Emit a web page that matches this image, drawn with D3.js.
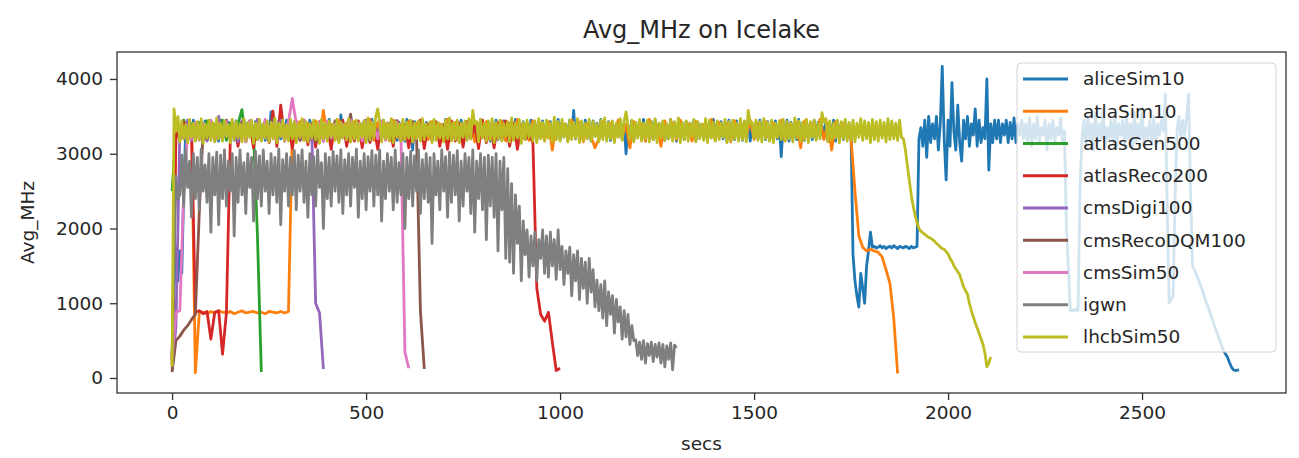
<!DOCTYPE html>
<html>
<head>
<meta charset="utf-8">
<script src="https://cdn.jsdelivr.net/npm/d3@7"></script>
<style>
  body { margin: 0; background: #fff; }
  svg { display: block; font-family: "DejaVu Sans", sans-serif; }
</style>
</head>
<body>
<div id="chart"></div>
<script>
const seriesNames = ["aliceSim10", "atlaSim10", "atlasGen500", "atlasReco200", "cmsDigi100",
    "cmsRecoDQM100", "cmsSim50", "igwn", "lhcbSim50"];

// seconds between two samples of each series (all start at 0 secs)
const sampleSecs = [5, 10, 10, 10, 10, 10, 10, 5, 5];

const aliceSim10 = [300, 1200, 1750, 1300, 1700, 1400, 2500, 3300,
    3250, 3400, 3200, 3450, 3180, 3420, 3230, 3390, 3210, 3440, 3190, 3410, 3240, 3380, 3200, 3430, 3170, 3450, 3220, 3400,
    3190, 3420, 3250, 3390, 3180, 3440, 3210, 3400, 3230, 3460, 3170, 3410, 3240, 3390, 3200, 3430, 3190, 3450, 3220, 3400,
    3180, 3420, 3210, 3560, 3240, 3390, 3170, 3440, 3200, 3410, 3230, 3450, 3190, 3400, 3250, 3430, 3170, 3410, 3210, 3440,
    3200, 3390, 3240, 3450, 3180, 3420, 3210, 3400, 3170, 3440, 3230, 3410, 3190, 3460, 3250, 3390, 3200, 3430, 3180, 3520,
    3220, 3400, 3170, 3450, 3240, 3410, 3190, 3430, 3210, 3390, 3250, 3440, 3180, 3420, 3200, 3460, 3230, 3400, 3170, 3430,
    3210, 3450, 3190, 3410, 3240, 3390, 3200, 3440, 3180, 3420, 3230, 3400, 3170, 3460, 3220, 3410, 3050, 3430, 3200, 3390,
    3240, 3450, 3180, 3420, 3210, 3400, 3170, 3440, 3250, 3410, 3190, 3390, 3230, 3460, 3200, 3420, 3180, 3400, 3240, 3430,
    3170, 3450, 3220, 3410, 3190, 3440, 3250, 3390, 3200, 3420, 3180, 3460, 3230, 3400, 3210, 3430, 3170, 3410, 3240, 3450,
    3190, 3400, 3220, 3440, 3180, 3420, 3250, 3390, 3200, 3460, 3170, 3410, 3230, 3430, 3210, 3400, 3190, 3450, 3240, 3420,
    3180, 3390, 3220, 3440, 3200, 3410, 3250, 3430, 3170, 3400, 3210, 3460, 3190, 3420, 3230, 3400, 3180, 3450, 3220, 3580,
    3200, 3420, 3240, 3390, 3180, 3450, 3210, 3400, 3170, 3440, 3230, 3410, 3190, 3460, 3250, 3390, 3200, 3430, 3180, 3420,
    3210, 3400, 3240, 3450, 3190, 3410, 3000, 3380, 3220, 3440, 3180, 3420, 3250, 3400, 3200, 3460, 3170, 3410, 3230, 3430,
    3190, 3450, 3210, 3400, 3240, 3420, 3180, 3390, 3200, 3460, 3230, 3410, 3170, 3440, 3220, 3400, 3190, 3430, 3250, 3410,
    3200, 3450, 3170, 3420, 3240, 3390, 3210, 3440, 3180, 3400, 3230, 3460, 3190, 3410, 3250, 3430, 3200, 3390, 3170, 3450,
    3220, 3410, 3190, 3440, 3240, 3400, 3180, 3430, 3210, 3460, 3170, 3390, 3230, 3420, 3200, 3450, 3250, 3410, 3190, 3430,
    3180, 3400, 3220, 3440, 3200, 3410, 2960, 3390, 3240, 3450, 3170, 3420, 3210, 3400, 3190, 3460, 3230, 3410, 3180, 3430,
    3230, 3400, 3190, 3450, 3210, 3420, 3240, 3380, 3200, 3430, 3180, 3410, 3220, 3450, 3170, 3400, 3240, 3420, 3190, 3440,
    3210, 3400, 3250,
    1650, 1300, 1100, 950, 1400, 1200, 1000, 1500, 1700, 1950, 1750, 1760, 1740, 1750, 1770, 1740, 1760, 1730, 1750, 1760,
    1740, 1770, 1750, 1730, 1760, 1750, 1740, 1760, 1750, 1730, 1760, 1740, 1750, 1760, 3200,
    3350, 3100, 3450, 2950, 3500, 3150, 3400, 3200, 3500, 3050, 3400, 4170, 3200, 2650, 3450, 3100, 3950, 3300, 3050, 3650,
    3150, 2900, 3450, 3200, 3500, 3100, 3400, 3250, 3600, 3100, 3450, 3150, 3350, 3200, 4000, 2780, 3400, 3150, 3450, 3200,
    3450, 3150, 3400, 3250, 3450, 3150, 3420, 3200, 3480, 3150, 3400, 3250, 3450, 3200, 3400,
    3150, 3480, 3100, 3400, 3200, 3500, 3150, 3350, 3250, 3450, 3050, 3400, 3200, 3450, 3150, 3350, 3250, 3480, 3150, 3300,
    2000, 1500, 900, 910, 900, 920, 900, 2500, 3200,
    3450, 3100, 3500, 3200, 3400, 3050, 3550, 3150, 3400, 3200, 3600, 3100, 3350, 3200, 3450, 3150, 3500, 3100, 3400, 3250,
    3450, 3100, 3500, 3200, 3400, 3050, 3550, 3150, 3400, 3200, 3600, 3100, 3350, 3200, 3450, 3150, 3500, 3100, 3400, 3250,
    3450, 3300,
    3800, 2200, 1000, 1050, 1100, 2400, 3300, 3500, 3200, 3450, 3250, 3500, 3800, 2500,
    1500, 1450, 1380, 1320, 1250, 1180, 1100, 1020, 950, 880, 800, 720, 650, 580, 500, 430, 370, 320, 280, 210,
    150, 110, 100, 105, 110];

const atlaSim10 = [200, 3300, 3200, 3450, 3250, 3400, 70, 870,
    880, 860, 890, 870, 900, 880, 870, 890, 860, 880, 900, 870, 880, 890, 870, 880, 860, 890, 880, 870, 890,
    870, 890, 3350,
    3200, 3430, 3180, 3400, 3250, 3440, 3170, 3580, 3220, 3390, 3190, 3450, 3240, 3410, 3160, 3430, 3210, 3380, 3250, 3460,
    3180, 3420, 3230, 3400, 3170, 3450, 3220, 3390, 3200, 3440, 3160, 3410, 3240, 3380, 3190, 3430, 3250, 3400, 3170, 3460,
    3210, 3420, 3180, 3390, 3240, 3450, 3160, 3400, 3220, 3430, 3190, 3380, 3250, 3440, 3170, 3410, 3230, 3460, 3200, 3390,
    3180, 3440, 3220, 3400, 3170, 3430, 3050, 3410, 3240, 3390, 3190, 3450, 3210, 3420, 3160, 3400, 3230, 3080, 3200, 3430,
    3250, 3410, 3180, 3450, 3220, 3390, 3080, 3430, 3240, 3400, 3170, 3460, 3210, 3380, 3100, 3440, 3230, 3410, 3190, 3450,
    3220, 3400, 3170, 3430, 3250, 3390, 3200, 3460, 3180, 3420, 3240, 3410, 3160, 3440, 3210, 3380, 3230, 3450, 3190, 3400,
    3250, 3430, 3180, 3410, 3220, 3450, 3170, 3390, 3240, 3420, 3080, 3440, 3200, 3400, 3230, 3460, 3190, 3410, 3050, 3430,
    3210, 3400, 3250,
    3200, 2500, 1900, 1750, 1700, 1720, 1700, 1680, 1620, 1450, 1270, 800, 60];

const atlasGen500 = [2500, 3300, 3200, 3450, 3180, 3400, 3250, 3420, 3170, 3440, 3220, 3390,
    3200, 3450, 3180, 3410, 3240, 3400, 3590, 3200, 3430, 3250, 1900, 80];

const atlasReco200 = [250, 3300, 3200, 3420, 3180, 3350, 880, 900, 860, 890, 520, 880, 900, 320, 870, 3200,
    3400, 3100, 3420, 3180, 3380, 3080, 3450, 3200, 3400, 3150, 3570, 3100, 3650, 3200, 3390, 3070, 3440, 3180, 3410, 3120,
    3400, 3090, 3430, 3190, 3380, 3060, 3420, 3200, 3450, 3100, 3390, 3170, 3440, 3080, 3410, 3150, 3380, 3060, 3430, 3200,
    3410, 3100, 3440, 3160, 3390, 3080, 3420, 3190, 3450, 3070, 3400, 3180, 3430, 3100, 3390, 3060, 3440, 3170, 3410, 3090,
    3430, 3200, 3400, 3070, 3450, 3150, 3390, 3080, 3420, 3180, 3440, 3100, 3410, 3060, 3380, 3190, 3250,
    3150, 1200, 850, 760, 880, 480, 100, 130];

const cmsDigi100 = [100, 700, 3300,
    3200, 3450, 3180, 3420, 3240, 3390, 3170, 3430, 3220, 3500, 3190, 3410, 3250, 3380, 3160, 3440, 3230,
    3400, 3190, 3460, 3210, 3390, 3240, 3420, 3170, 3450, 3200, 3380, 3230, 3430, 3180, 3410, 3250,
    3300, 1000, 870, 120];

const cmsRecoDQM100 = [80, 500, 560, 640, 700, 780, 850, 2200, 3300,
    3200, 3430, 3170, 3400, 3250, 3450, 3190, 3380, 3220, 3420, 3160, 3440, 3240, 3390, 3180, 3410, 3230, 3460, 3200, 3400,
    3170, 3430, 3250, 3390, 3190, 3450, 3210, 3400, 3160, 3420, 3240, 3380, 3200, 3440, 3180, 3410, 3230, 3530, 3190, 3400,
    3220, 3450, 3170, 3390, 3240, 3420, 3200, 3400, 3180, 3440, 3250, 3380, 3210, 3430,
    3250, 900, 120];

const cmsSim50 = [250, 880, 900, 2500, 3300,
    3200, 3420, 3180, 3400, 3250, 3450, 3170, 3390, 3230, 3430, 3190, 3410, 3240, 3380, 3160, 3440, 3220, 3400, 3200, 3460,
    3180, 3410, 3240, 3390, 3170, 3430, 3740, 3400, 3220, 3450, 3190, 3380, 3250, 3420, 3160, 3440, 3210, 3400, 3230, 3390,
    3190, 3450, 3220, 3410, 3170, 3430, 3240, 3380, 3200, 3440, 3180, 3400, 3250, 3420,
    3200, 350, 130];

const igwn = [150, 1500, 2700, 2400,
    2450, 2980, 2300, 3050, 2550, 2900, 2150, 3000, 2400, 2950, 2250, 3060, 2500, 2850, 2350, 3000, 1950, 2950, 2450, 3020,
    2050, 2980, 2400, 3050, 2300, 2900, 2500, 3000, 1900, 2950, 2350, 3050, 2450, 2880, 2200, 3000, 2550, 2950, 2100, 3030,
    2400, 2970, 2300, 3050, 2500, 2900, 2200, 3000, 2450, 2950, 2350, 3060, 2050, 2920, 2500, 3000, 2300, 2950, 2450, 3040,
    2250, 2980, 2500, 3050, 2350, 2900, 2150, 3000, 2450, 2960, 2300, 3050, 2550, 2880, 2000, 3000, 2400, 2950, 2300, 3030,
    2500, 2970, 2350, 3050, 2200, 2920, 2450, 3000, 2300, 2950, 2550, 3060, 2150, 2900, 2400, 3000, 2250, 2960, 2500, 3040,
    2300, 2980, 2450, 3050, 2100, 2900, 2400, 3000, 2500, 2950, 2250, 3050, 2350, 2880, 2450, 3000, 2000, 2950, 2400, 3030,
    2300, 2970, 2500, 3050, 2200, 2920, 2400, 3000, 2350, 2950, 1800, 3000, 2450, 2900, 2250, 3050, 2500, 2960, 2150, 3020,
    2350, 2980, 2450, 3040, 2100, 2900, 2300, 3000, 2500, 2950, 2200, 3050, 1950, 2900, 2400, 3000, 2250, 2950, 1850, 2980,
    2300, 2950, 2150, 3000, 1700, 2900, 2250, 2950, 1600,
    2800, 1550, 2600, 1400, 2450, 1800, 2300, 1300, 2100, 1650, 1980, 1350, 1900, 1500, 1950, 1300, 1850, 1600, 1980, 1400,
    1900, 1350, 1950, 1500, 1850, 1320, 1980, 1450, 1760, 1250, 1700, 1400, 1750, 1100, 1650, 1300, 1700, 1050, 1600, 1200,
    1550, 1000, 1600, 1150, 1450, 950, 1310, 900, 1250, 800, 1300, 700, 1150, 850, 1100, 600, 1050, 750, 950, 520,
    900, 550, 850, 450, 700, 500, 510, 300, 480, 250, 500, 200, 460, 300, 480, 220, 450, 280, 470, 200,
    450, 150, 430, 250, 470, 110, 440, 400];

const lhcbSim50 = [150, 3600, 3300, 3500,
    3160, 3440, 3200, 3390, 3150, 3460, 3220, 3410, 3170, 3430, 3190, 3470, 3140, 3400, 3210, 3450, 3180, 3420, 3160, 3480,
    3200, 3410, 3170, 3440, 3230, 3390, 3150, 3460, 3190, 3430, 3210, 3400, 3160, 3470, 3180, 3420, 3220, 3450, 3140, 3410,
    3190, 3460, 3170, 3400, 3210, 3440, 3160, 3420, 3200, 3480, 3150, 3410, 3230, 3450, 3180, 3390, 3170, 3460, 3200, 3430,
    3150, 3410, 3220, 3470, 3180, 3430, 3160, 3400, 3210, 3450, 3190, 3420, 3140, 3460, 3200, 3410, 3170, 3440, 3230, 3390,
    3180, 3460, 3150, 3420, 3210, 3400, 3190, 3470, 3160, 3430, 3200, 3450, 3170, 3410, 3220, 3440, 3150, 3480, 3190, 3420,
    3210, 3500, 3600, 3420, 3160, 3450, 3200, 3410, 3180, 3470, 3150, 3430, 3220, 3400, 3170, 3460, 3190, 3420, 3210, 3450,
    3160, 3410, 3200, 3440, 3170, 3470, 3190, 3400, 3230, 3430, 3150, 3460, 3180, 3420, 3210, 3390, 3160, 3450, 3200, 3480,
    3170, 3420, 3190, 3450, 3150, 3410, 3220, 3440, 3180, 3470, 3200, 3580, 3400, 3430, 3160, 3460, 3210, 3410, 3170, 3440,
    3190, 3470, 3150, 3420, 3200, 3450, 3170, 3400, 3230, 3430, 3160, 3480, 3180, 3410, 3210, 3460, 3140, 3420, 3190, 3450,
    3220, 3400, 3170, 3440, 3150, 3470, 3200, 3420, 3180, 3450, 3210, 3410, 3160, 3490, 3190, 3430, 3170, 3460, 3220, 3400,
    3160, 3450, 3190, 3420, 3210, 3470, 3150, 3440, 3180, 3410, 3200, 3460, 3170, 3430, 3230, 3400, 3160, 3450, 3190, 3480,
    3170, 3420, 3200, 3440, 3150, 3410, 3220, 3470, 3180, 3430, 3560, 3380, 3190, 3450, 3160, 3420, 3210, 3460, 3170, 3410,
    3200, 3450, 3160, 3430, 3190, 3470, 3150, 3410, 3220, 3440, 3180, 3400, 3200, 3460, 3170, 3430, 3210, 3480, 3150, 3420,
    3190, 3440, 3170, 3410, 3230, 3460, 3160, 3430, 3200, 3400, 3180, 3470, 3150, 3450, 3210, 3420, 3170, 3440, 3190, 3410,
    3220, 3460, 3150, 3430, 3180, 3450, 3200, 3410, 3170, 3470, 3190, 3440, 3160, 3580, 3400, 3420, 3210, 3450, 3180, 3430,
    3160, 3470, 3200, 3420, 3170, 3450, 3150, 3410, 3220, 3440, 3190, 3460, 3180, 3430, 3200, 3410, 3160, 3480, 3210, 3440,
    3170, 3420, 3190, 3460, 3150, 3430, 3220, 3450, 3180, 3410, 3200, 3550, 3420, 3470, 3160, 3440, 3190, 3410, 3210, 3450,
    3150, 3430, 3200, 3460, 3170, 3420, 3190, 3450, 3160, 3410, 3220, 3470, 3180, 3440, 3200, 3420, 3150, 3460, 3190, 3430,
    3170, 3450, 3210, 3420, 3160, 3470, 3190, 3440, 3200, 3410, 3180, 3450, 3220,
    3200, 3050, 2850, 2650, 2450, 2300, 2180, 2080, 2000, 1960, 1940, 1920, 1900, 1880, 1870, 1850, 1830, 1800, 1780, 1750,
    1730, 1720, 1690, 1660, 1600, 1560, 1500, 1460, 1420, 1380, 1300, 1220, 1170, 1120, 1000, 900, 820, 740, 670, 600,
    520, 450, 330, 150, 200, 280];

const seriesValues = [aliceSim10, atlaSim10, atlasGen500, atlasReco200, cmsDigi100,
    cmsRecoDQM100, cmsSim50, igwn, lhcbSim50];

const xTicks = [0, 500, 1000, 1500, 2000, 2500];
const yTicks = [0, 1000, 2000, 3000, 4000];

const colors = d3.schemeCategory10;
const width = 1299, height = 458;
const plot = { left: 117, right: 1286, top: 52, bottom: 393 };

const svg = d3.select("#chart")
    .append("svg")
    .attr("width", width)
    .attr("height", height);

const x = d3.scaleLinear()
    .domain([-142, 2871])
    .range([plot.left, plot.right]);

const y = d3.scaleLinear()
    .domain([-201, 4361])
    .range([plot.bottom, plot.top]);

svg.append("g")
    .selectAll("path")
    .data(seriesValues)
    .enter()
    .append("path")
    .attr("d", (d, k) => d3.line()
        .x((v, i) => x(i * sampleSecs[k]))
        .y(v => y(v))(d))
    .attr("fill", "none")
    .attr("stroke", (d, i) => colors[i])
    .attr("stroke-width", 2.8)
    .attr("stroke-linejoin", "round");

// axes
const xAxis = svg.append("g")
    .attr("transform", `translate(0,${plot.bottom})`)
    .call(d3.axisBottom(x).tickValues(xTicks).tickFormat(d3.format("d"))
        .tickSize(7).tickPadding(6).tickSizeOuter(0));
const yAxis = svg.append("g")
    .attr("transform", `translate(${plot.left},0)`)
    .call(d3.axisLeft(y).tickValues(yTicks).tickFormat(d3.format("d"))
        .tickSize(7).tickPadding(7).tickSizeOuter(0));

[xAxis, yAxis].forEach(g => {
    g.select(".domain").remove();
    g.selectAll("line").attr("stroke", "#333").attr("stroke-width", 1.3);
    g.selectAll("text")
        .style("font-family", "DejaVu Sans")
        .style("font-size", "18.5px")
        .attr("fill", "#262626");
});

svg.append("rect")
    .attr("x", plot.left)
    .attr("y", plot.top)
    .attr("width", plot.right - plot.left)
    .attr("height", plot.bottom - plot.top)
    .attr("fill", "none")
    .attr("stroke", "#333")
    .attr("stroke-width", 1.3);

// titles
svg.append("text")
    .attr("x", (plot.left + plot.right) / 2)
    .attr("y", 38)
    .attr("text-anchor", "middle")
    .style("font-size", "24px")
    .attr("fill", "#262626")
    .text("Avg_MHz on Icelake");

svg.append("text")
    .attr("x", (plot.left + plot.right) / 2)
    .attr("y", 450)
    .attr("text-anchor", "middle")
    .style("font-size", "18.5px")
    .attr("fill", "#262626")
    .text("secs");

svg.append("text")
    .attr("transform", `translate(34,${(plot.top + plot.bottom) / 2}) rotate(-90)`)
    .attr("text-anchor", "middle")
    .style("font-size", "18.5px")
    .attr("fill", "#262626")
    .text("Avg_MHz");

// legend
const legend = svg.append("g").attr("transform", "translate(1017,63)");
legend.append("rect")
    .attr("width", 259)
    .attr("height", 289)
    .attr("rx", 4)
    .attr("fill", "#fff")
    .attr("fill-opacity", 0.8)
    .attr("stroke", "#d4d4d4");

const items = legend.selectAll(".item")
    .data(seriesNames)
    .enter()
    .append("g")
    .attr("class", "item")
    .attr("transform", (d, i) => `translate(0,${16 + i * 32.25})`);

items.append("line")
    .attr("x1", 6).attr("x2", 51)
    .attr("stroke", (d, i) => colors[i])
    .attr("stroke-width", 2.8);

items.append("text")
    .attr("x", 66)
    .attr("dy", "0.35em")
    .style("font-size", "18.5px")
    .attr("fill", "#262626")
    .text(d => d);
</script>
</body>
</html>
